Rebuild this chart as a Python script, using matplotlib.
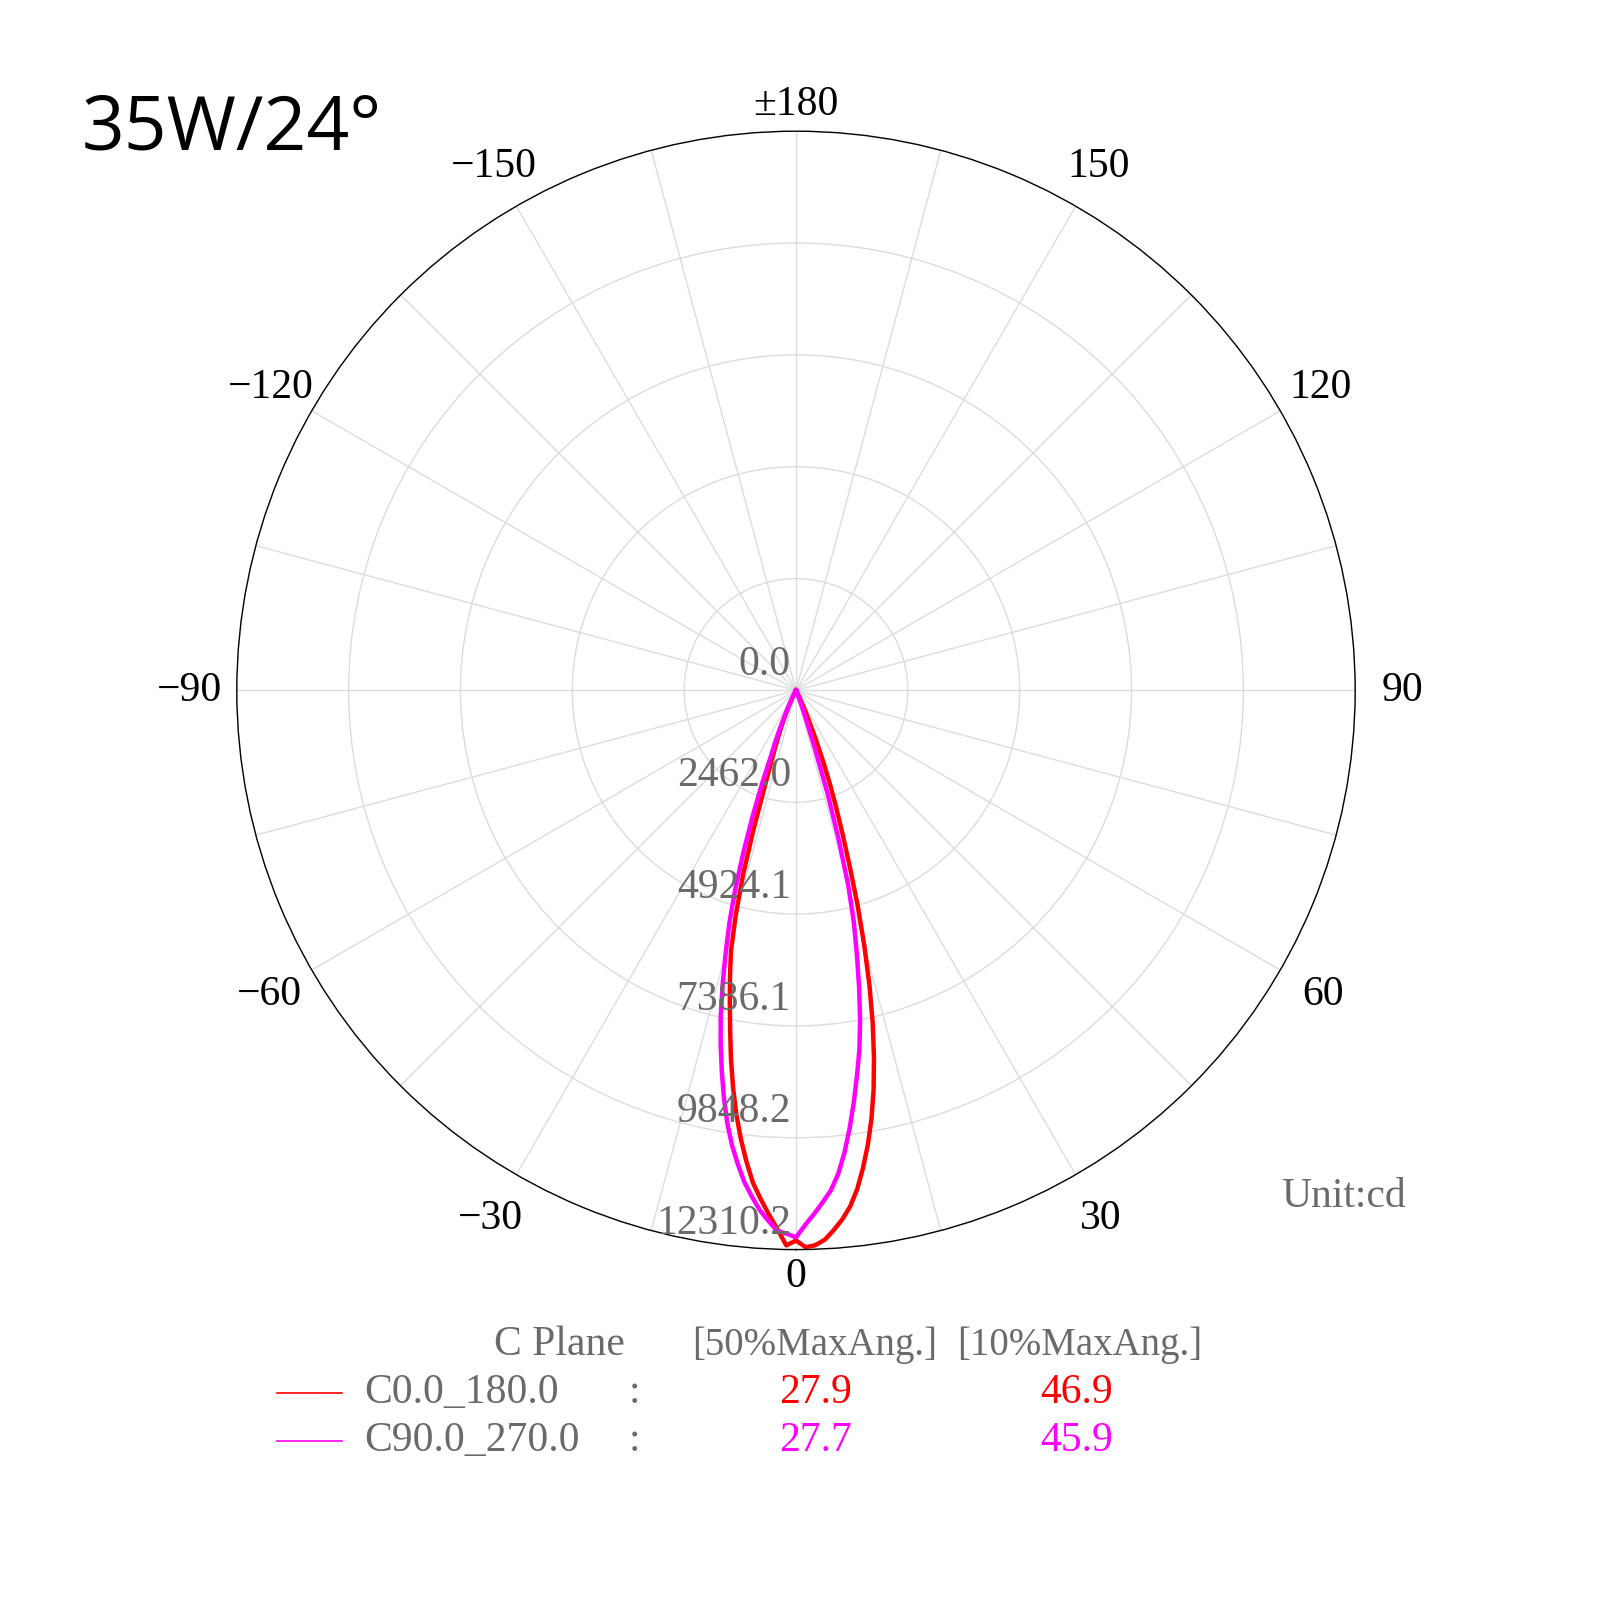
import numpy as np
import matplotlib.pyplot as plt
from matplotlib.lines import Line2D

# gamma angles (deg) shared by every half plane
gamma = [0, 1, 2, 3, 4, 5, 6, 7, 8, 9, 10, 11, 12, 13, 14, 15, 16, 17, 18, 19,
         20, 21, 22, 23, 24, 25, 28, 32, 40, 90]

# intensities (cd)
c0 = [12110, 12260, 12220, 12110, 11910, 11690, 11420, 11060, 10610, 10120,
      9570, 8955, 8256, 7502, 6682, 5800, 4920, 4030, 3296, 2686,
      2134, 1625, 1160, 760, 520, 330, 90, 20, 0, 0]
c180 = [12110, 12220, 11860, 11540, 11215, 10880, 10433, 9955, 9430, 8854,
        8243, 7600, 7007, 6459, 5922, 5130, 4242, 3200, 2250, 1700,
        1350, 1080, 850, 650, 480, 350, 100, 20, 0, 0]
c90 = [12040, 11765, 11527, 11279, 11029, 10680, 10224, 9702, 9148, 8582,
       8036, 7395, 6678, 5953, 5263, 4451, 3381, 2397, 1330, 700,
       350, 180, 100, 60, 40, 25, 10, 0, 0, 0]
c270 = [12040, 11960, 11905, 11689, 11466, 11180, 10883, 10508, 10115, 9659,
        9126, 8558, 7978, 7369, 6678, 5979, 5316, 4574, 3737, 2948,
        2186, 1508, 1200, 891, 600, 400, 120, 30, 0, 0]

ring_values = [0.0, 2462.0, 4924.1, 7386.1, 9848.2, 12310.2]
ring_labels = ['0.0', '2462.0', '4924.1', '7386.1', '9848.2', '12310.2']

angle_ticks = [0, 30, 60, 90, 120, 150, 180, 210, 240, 270, 300, 330]
angle_labels = ['0', '30', '60', '90', '120', '150', '\u00b1180',
                '\u2212150', '\u2212120', '\u221290', '\u221260', '\u221230']

plane_names = ['C0.0_180.0', 'C90.0_270.0']
half_max_ang = ['27.9', '27.7']
tenth_max_ang = ['46.9', '45.9']
plane_colors = ['#ff0000', '#ff00ff']

serif = 'Liberation Serif'
grey = '#6a6a6a'
fs = 30

fig = plt.figure(figsize=(16, 16), dpi=100)
fig.patch.set_facecolor('white')
ax = fig.add_axes([0.148, 0.219, 0.699, 0.699], projection='polar')
ax.set_theta_zero_location('S')
ax.set_theta_direction(1)
rmax = ring_values[-1]
ax.set_ylim(0, rmax)

ax.set_xticks(np.deg2rad(np.arange(0, 360, 15)))
ax.set_xticklabels([])
ax.set_yticks(ring_values[1:])
ax.set_yticklabels([])
ax.tick_params(length=0)
ax.grid(True, color='#dcdcdc', lw=1.0)
ax.spines['polar'].set_edgecolor('black')
ax.spines['polar'].set_linewidth(1.0)

# curves: negative gamma side then positive gamma side
g = np.array(gamma, dtype=float)
th = np.deg2rad(np.concatenate([-g[::-1], g[1:]]))
red = np.concatenate([np.array(c180)[::-1], np.array(c0)[1:]])
mag = np.concatenate([np.array(c270)[::-1], np.array(c90)[1:]])
ax.plot(th, red, color=plane_colors[0], lw=3.2, solid_joinstyle='round', clip_on=False)
ax.plot(th, mag, color=plane_colors[1], lw=3.2, solid_joinstyle='round', clip_on=False)

# angle labels outside the circle
label_off = {0: 27, 180: 26, 90: 47, 270: 47, 30: 51, 330: 51, 60: 49, 300: 49,
             120: 47, 240: 47, 150: 46, 210: 46}
for a, lab in zip(angle_ticks, angle_labels):
    r = np.deg2rad(a)
    off = label_off[a]
    ax.annotate(lab, xy=(r, rmax), xytext=(off * np.sin(r), -off * np.cos(r)),
                textcoords='offset pixels', ha='center', va='center',
                fontsize=fs, family=serif, color='black', annotation_clip=False)

# radial value labels along the 0 direction
for v, lab in zip(ring_values, ring_labels):
    ax.annotate(lab, xy=(0, v), xytext=(-5, 26), textcoords='offset pixels',
                ha='right', va='center', fontsize=fs, family=serif, color=grey,
                annotation_clip=False)

fig.text(1281 / 1600, 1 - 1197 / 1600, 'Unit:cd', ha='left', va='center',
         fontsize=fs, family=serif, color=grey)

# title
fig.text(82 / 1600, 1 - 150 / 1600, '35W/24\u00b0', ha='left', va='baseline',
         fontsize=54, family='Open Sans', color='black')

# legend table
hy = 1 - 1345 / 1600
fig.text(494 / 1600, hy, 'C Plane', ha='left', va='center', fontsize=fs, family=serif, color=grey)
fig.text(692 / 1600, hy, '[50%MaxAng.]', ha='left', va='center', fontsize=28, family=serif, color=grey)
fig.text(1202 / 1600, hy, '[10%MaxAng.]', ha='right', va='center', fontsize=28, family=serif, color=grey)
for i, (name, h, t, col) in enumerate(zip(plane_names, half_max_ang, tenth_max_ang, plane_colors)):
    y = 1 - (1393 + 48 * i) / 1600
    fig.add_artist(Line2D([277 / 1600, 342 / 1600], [y, y], color=col, lw=1.2))
    fig.text(364 / 1600, y, name, ha='left', va='center', fontsize=fs, family=serif, color=grey)
    fig.text(635 / 1600, y, ':', ha='center', va='center', fontsize=fs, family=serif, color=grey)
    fig.text(816 / 1600, y, h, ha='center', va='center', fontsize=fs, family=serif, color=col)
    fig.text(1077 / 1600, y, t, ha='center', va='center', fontsize=fs, family=serif, color=col)

fig.savefig('out.png', dpi=100, facecolor='white')
